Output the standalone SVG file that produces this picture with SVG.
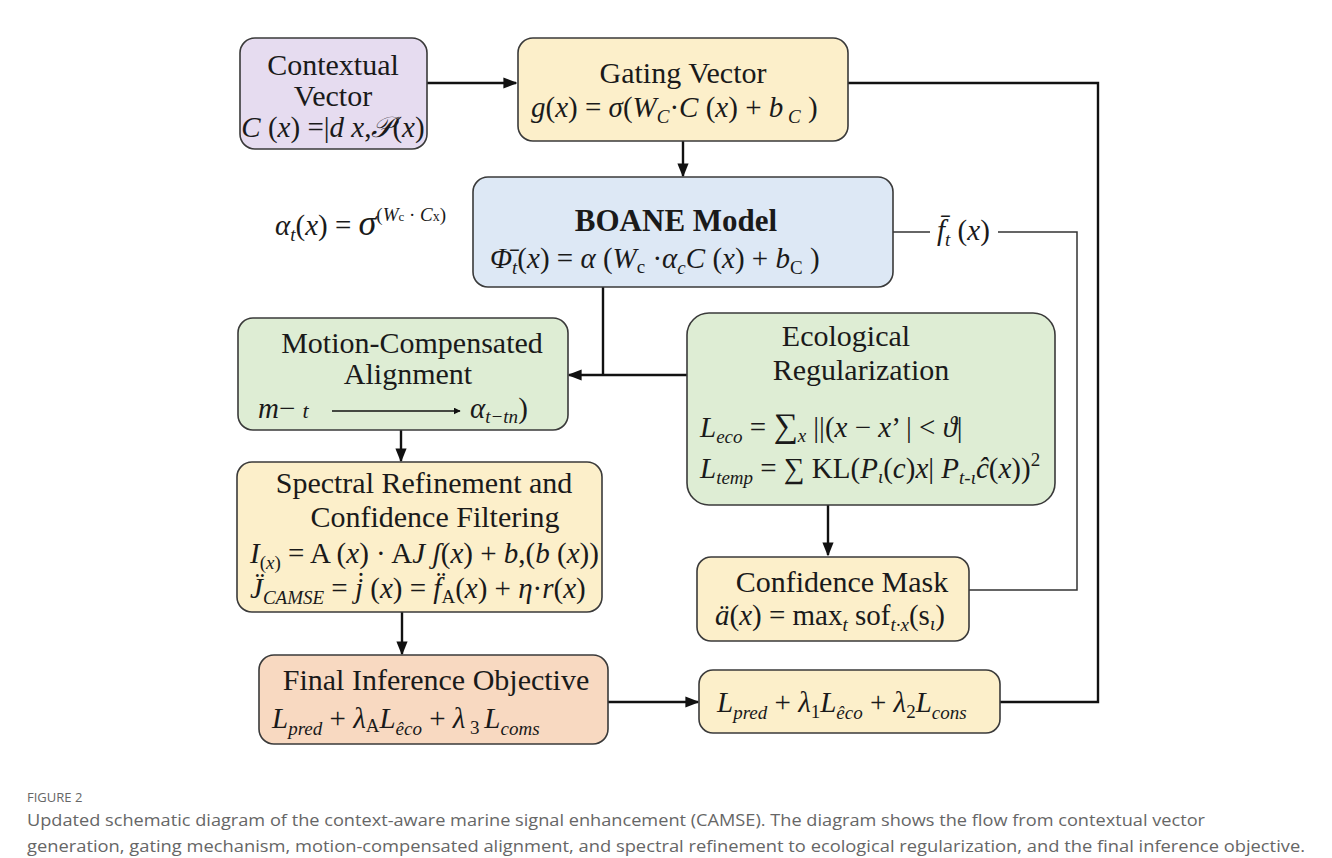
<svg xmlns="http://www.w3.org/2000/svg" width="1332" height="858" viewBox="0 0 1332 858">
<defs>
<style>
.box{stroke:#3a3a3a;stroke-width:1.6}
.t{font-family:'Liberation Serif','DejaVu Serif',serif;font-size:30px;fill:#1a1a1a}
.b{font-family:'Liberation Serif','DejaVu Serif',serif;font-size:31px;font-weight:bold;fill:#1a1a1a}
.m{font-family:'Liberation Serif','DejaVu Serif',serif;font-size:29px;fill:#1a1a1a}
.i{font-style:italic}
.s{font-size:19px}
.c{stroke:#111;stroke-width:2.4;fill:none}
.cl{stroke:#333;stroke-width:1.5;fill:none}
.cap{font-family:'Open Sans','Noto Sans','DejaVu Sans',sans-serif;fill:#666}
</style>
<marker id="ah" viewBox="0 0 10 10" refX="9" refY="5" markerWidth="7" markerHeight="7" markerUnits="userSpaceOnUse" orient="auto">
<path d="M0,0 L10,5 L0,10 Z" fill="#111"/>
</marker>
<marker id="a" viewBox="0 0 10 10" refX="9" refY="5" markerWidth="14" markerHeight="14" markerUnits="userSpaceOnUse" orient="auto">
<path d="M0,1 L10,5 L0,9 Z" fill="#111"/>
</marker>
</defs>
<rect x="0" y="0" width="1332" height="858" fill="#fff"/>

<g id="connectors">
<line class="c" x1="427" y1="83" x2="516" y2="83" marker-end="url(#a)"/>
<line class="c" x1="683" y1="141" x2="683" y2="176" marker-end="url(#a)"/>
<polyline class="c" points="603,287 603,375"/>
<line class="c" x1="687" y1="375" x2="569" y2="375" marker-end="url(#a)"/>
<line class="c" x1="401" y1="430" x2="401" y2="461" marker-end="url(#a)"/>
<line class="c" x1="402" y1="612" x2="402" y2="654" marker-end="url(#a)"/>
<line class="c" x1="608" y1="702" x2="698" y2="702" marker-end="url(#a)"/>
<line class="c" x1="828" y1="505" x2="828" y2="555" marker-end="url(#a)"/>
<polyline class="c" points="1000,702 1098,702 1098,83 848,83"/>
<line class="cl" x1="893" y1="232" x2="930" y2="232"/>
<polyline class="cl" points="998,232 1077,232 1077,590 969,590"/>
</g>

<g id="contextual">
<rect class="box" x="240" y="38" width="187" height="111" rx="15" fill="#e6dcf0"/>
<text class="t" x="333" y="75" text-anchor="middle" font-size="31">Contextual</text>
<text class="t" x="333" y="106" text-anchor="middle" font-size="31">Vector</text>
<text class="m" x="333" y="137" text-anchor="middle" font-size="27.5"><tspan class="i">C</tspan> (<tspan class="i">x</tspan>) =|<tspan class="i">d x</tspan>,<tspan class="i">𝒫</tspan>(<tspan class="i">x</tspan>)</text>
</g>

<g id="gating">
<rect class="box" x="518" y="38" width="330" height="103" rx="15" fill="#fcefca"/>
<text class="t" x="683" y="83" text-anchor="middle">Gating Vector</text>
<text class="m" x="531" y="117" font-size="32"><tspan class="i">g</tspan>(<tspan class="i">x</tspan>) = <tspan class="i">σ</tspan>(<tspan class="i">W</tspan><tspan class="s i" dy="6">C</tspan><tspan dy="-6">·</tspan><tspan class="i">C</tspan> (<tspan class="i">x</tspan>) + <tspan class="i">b</tspan><tspan class="s i" dy="6"> C</tspan><tspan dy="-6"> )</tspan></text>
</g>

<g id="boane">
<rect class="box" x="473" y="177" width="420" height="110" rx="15" fill="#dde8f5"/>
<text class="b" x="676" y="231" text-anchor="middle">BOANE Model</text>
<text class="m" x="490" y="268" font-size="31"><tspan class="i">Φ̄</tspan><tspan class="s i" dy="6">t</tspan><tspan dy="-6">(</tspan><tspan class="i">x</tspan>) = <tspan class="i">α</tspan> (<tspan class="i">W</tspan><tspan class="s" dy="5">c</tspan><tspan dy="-5"> ·</tspan><tspan class="i">α</tspan><tspan class="s i" dy="6">c</tspan><tspan class="i" dy="-6">C</tspan> (<tspan class="i">x</tspan>) + <tspan class="i">b</tspan><tspan class="s" dy="6">C</tspan><tspan dy="-6">   )</tspan></text>
</g>

<g id="alpha-label">
<text class="m" x="275" y="235" font-size="31"><tspan class="i">α</tspan><tspan class="s i" dy="6">t</tspan><tspan dy="-6">(</tspan><tspan class="i">x</tspan>) = <tspan class="i" font-size="36">σ</tspan><tspan class="s" dy="-14" font-size="20">(<tspan class="i">W</tspan><tspan font-size="13">c</tspan> · <tspan class="i">C</tspan><tspan font-size="14">x</tspan>)</tspan></text>
</g>

<g id="f-label">
<text class="m" x="937" y="240" font-size="28"><tspan class="i">f̄</tspan><tspan class="s i" dy="6">t</tspan><tspan dy="-6"> (</tspan><tspan class="i">x</tspan>)</text>
</g>

<g id="motion">
<rect class="box" x="238" y="318" width="330" height="112" rx="15" fill="#deedd4"/>
<text class="t" x="412" y="353" text-anchor="middle">Motion-Compensated</text>
<text class="t" x="408" y="384" text-anchor="middle">Alignment</text>
<text class="m" x="258" y="418"><tspan class="i">m</tspan>− <tspan class="i" font-size="22">t</tspan></text>
<line x1="332" y1="411" x2="460" y2="411" stroke="#111" stroke-width="1.3" marker-end="url(#ah)"/>
<text class="m" x="470" y="418"><tspan class="i">α</tspan><tspan class="s i" dy="5">t−tn</tspan><tspan dy="-5">)</tspan></text>
</g>

<g id="ecological">
<rect class="box" x="687" y="313" width="368" height="192" rx="22" fill="#deedd4"/>
<text class="t" x="846" y="346" text-anchor="middle">Ecological</text>
<text class="t" x="861" y="380" text-anchor="middle">Regularization</text>
<text class="m" x="700" y="437"><tspan class="i">L</tspan><tspan class="s i" dy="6">eco</tspan><tspan dy="-6"> = </tspan><tspan font-size="34">∑</tspan><tspan class="s i" dy="5">x</tspan><tspan dy="-5"> ||(</tspan><tspan class="i">x</tspan> − <tspan class="i">x</tspan>’ | &lt; <tspan class="i">ϑ</tspan>|</text>
<text class="m" x="700" y="478"><tspan class="i">L</tspan><tspan class="s i" dy="6">temp</tspan><tspan dy="-6"> = ∑ KL(</tspan><tspan class="i">P</tspan><tspan class="s i" dy="5">ι</tspan><tspan dy="-5">(</tspan><tspan class="i">c</tspan>)<tspan class="i">x</tspan>| <tspan class="i">P</tspan><tspan class="s i" dy="6">t-ι</tspan><tspan class="i" dy="-6">ĉ</tspan>(<tspan class="i">x</tspan>))<tspan class="s" dy="-12">2</tspan></text>
</g>

<g id="spectral">
<rect class="box" x="237" y="462" width="365" height="150" rx="15" fill="#fcefca"/>
<text class="t" x="424" y="493" text-anchor="middle">Spectral Refinement and</text>
<text class="t" x="435" y="527" text-anchor="middle">Confidence Filtering</text>
<text class="m" x="250" y="563" font-size="28"><tspan class="i">I</tspan><tspan class="s" dy="6">(<tspan class="i">x</tspan>)</tspan><tspan dy="-6"> = A (</tspan><tspan class="i">x</tspan>) · A<tspan class="i">J ʃ</tspan>(<tspan class="i">x</tspan>) + <tspan class="i">b</tspan>,(<tspan class="i">b</tspan> (<tspan class="i">x</tspan>))</text>
<text class="m" x="250" y="598" font-size="30"><tspan class="i">J̈</tspan><tspan class="s i" dy="6">CAMSE</tspan><tspan dy="-6"> = </tspan><tspan class="i">j̇</tspan> (<tspan class="i">x</tspan>) = <tspan class="i">f̈</tspan><tspan class="s" dy="5">A</tspan><tspan dy="-5">(</tspan><tspan class="i">x</tspan>) + <tspan class="i">η</tspan>·<tspan class="i">r</tspan>(<tspan class="i">x</tspan>)</text>
</g>

<g id="confidence-mask">
<rect class="box" x="697" y="557" width="272" height="84" rx="14" fill="#fcefca"/>
<text class="t" x="842" y="592" text-anchor="middle">Confidence Mask</text>
<text class="m" x="715" y="625" font-size="31"><tspan class="i">ä</tspan>(<tspan class="i">x</tspan>) = max<tspan class="s i" dy="6">t</tspan><tspan dy="-6"> sof</tspan><tspan class="s i" dy="6">t·x</tspan><tspan dy="-6">(s</tspan><tspan class="s i" dy="5">ι</tspan><tspan dy="-5">)</tspan></text>
</g>

<g id="final">
<rect class="box" x="259" y="655" width="349" height="89" rx="15" fill="#f8d9c1"/>
<text class="t" x="436" y="690" text-anchor="middle">Final Inference Objective</text>
<text class="m" x="272" y="728" font-size="32"><tspan class="i">L</tspan><tspan class="s i" dy="7" font-size="24">pred</tspan><tspan dy="-7"> + </tspan><tspan class="i">λ</tspan><tspan class="s" font-size="14" dy="4">A</tspan><tspan class="i" dy="-4">L</tspan><tspan class="s i" dy="7" font-size="24">êco</tspan><tspan dy="-7"> + </tspan><tspan class="i">λ</tspan><tspan class="s" dy="6"> 3 </tspan><tspan class="i" dy="-6">L</tspan><tspan class="s i" dy="7" font-size="24">coms</tspan></text>
</g>

<g id="objective">
<rect class="box" x="699" y="670" width="301" height="63" rx="14" fill="#fcefca"/>
<text class="m" x="717" y="712" font-size="33"><tspan class="i">L</tspan><tspan class="s i" dy="7" font-size="24">pred</tspan><tspan dy="-7"> + </tspan><tspan class="i">λ</tspan><tspan class="s" dy="6" font-size="21">1</tspan><tspan class="i" dy="-6">L</tspan><tspan class="s i" dy="7" font-size="24">êco</tspan><tspan dy="-7"> + </tspan><tspan class="i">λ</tspan><tspan class="s" dy="6" font-size="21">2</tspan><tspan class="i" dy="-6">L</tspan><tspan class="s i" dy="7" font-size="24">cons</tspan></text>
</g>

<g id="caption">
<text class="cap" x="27" y="802" font-size="13">FIGURE 2</text>
<text class="cap" x="27" y="826" font-size="17" textLength="1178" lengthAdjust="spacingAndGlyphs">Updated schematic diagram of the context-aware marine signal enhancement (CAMSE). The diagram shows the flow from contextual vector</text>
<text class="cap" x="27" y="852" font-size="17" textLength="1278" lengthAdjust="spacingAndGlyphs">generation, gating mechanism, motion-compensated alignment, and spectral refinement to ecological regularization, and the final inference objective.</text>
</g>
</svg>
